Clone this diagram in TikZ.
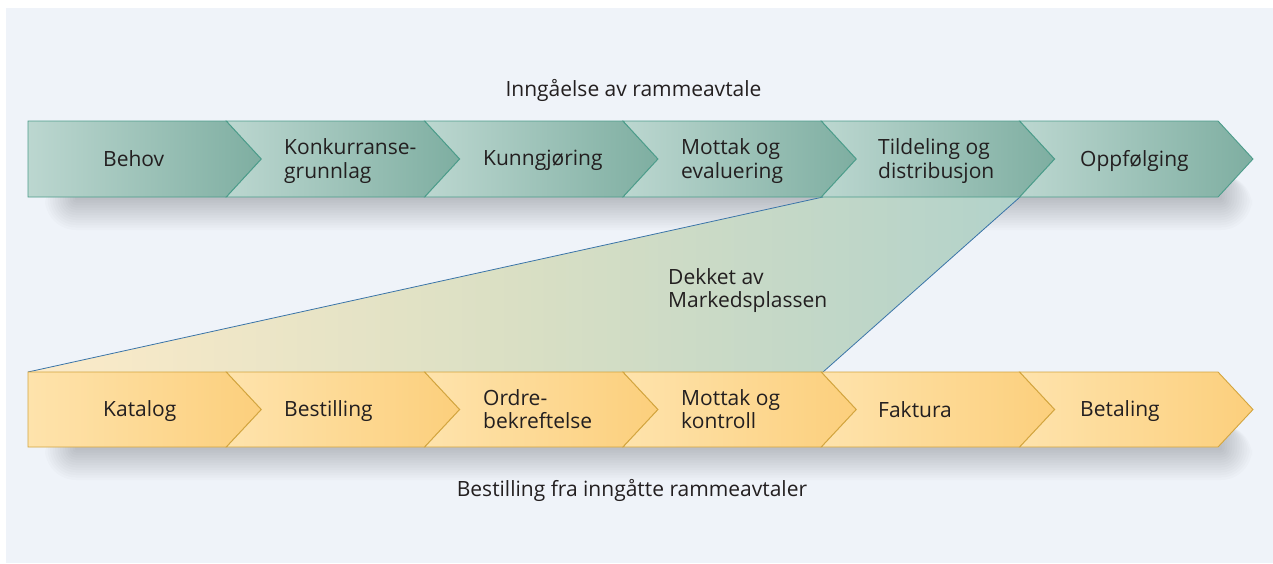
\documentclass[tikz,border=0pt]{standalone}
\usepackage{fontspec}
\setmainfont{Open Sans}
\definecolor{bg}{HTML}{EFF3F9}
\definecolor{tl}{HTML}{BCD7D0}
\definecolor{tr}{HTML}{7EAEA1}
\definecolor{tb}{HTML}{4C9C8A}
\definecolor{yl}{HTML}{FEE3AC}
\definecolor{yr}{HTML}{FCCF7C}
\definecolor{yb}{HTML}{D3A53F}
\definecolor{fl}{HTML}{FDEBC9}
\definecolor{fm}{HTML}{D9DFC4}
\definecolor{fr}{HTML}{B2D2CA}
\definecolor{edge}{HTML}{3A74A8}
\definecolor{txt}{HTML}{231F20}
\newcommand\lstr{\rule[-5pt]{0pt}{21pt}}
\begin{document}
\begin{tikzpicture}[x=1pt,y=-1pt,
  lbl/.style={anchor=west,inner sep=0pt,text=txt,align=left,font=\fontsize{21}{23.5}\selectfont},
  ttl/.style={anchor=base,inner sep=0pt,text=txt,font=\fontsize{21}{23.5}\selectfont},
  topchev/.style={left color=tl,right color=tr,draw=tb,line width=0.9pt,line join=miter},
  botchev/.style={left color=yl,right color=yr,draw=yb,line width=0.9pt,line join=miter},
  funnel/.style={left color=fl,right color=fr,middle color=fm},
  funneledge/.style={draw=edge,line width=0.8pt}]
\useasboundingbox (0,0) rectangle (1273,563);
\fill[white] (0,0) rectangle (1273,563);
\fill[bg] (6,8) rectangle (1273,563);
% soft shadows
\foreach \k in {0,...,12}{
  \pgfmathsetmacro\r{2.5*\k+1}
  \fill[black,opacity=0.016,rounded corners=\r pt] ({75-2.5*\k},175) rectangle ({1222+2.5*\k},{200+2.5*\k});
  \fill[black,opacity=0.016,rounded corners=\r pt] ({75-2.5*\k},425) rectangle ({1222+2.5*\k},{450+2.5*\k});
}
% funnel
\path[funnel] (28,372) -- (823,197) -- (1020,197) -- (823,372) -- cycle;
\coordinate (fa) at (28,372);
\coordinate (fb) at (823,197);
\coordinate (fc) at (1020,197);
\coordinate (fd) at (823,372);
\draw[funneledge] (fa) -- (fb);
\draw[funneledge] (fc) -- (fd);
% chevrons
\foreach \i in {0,...,5}{
  \pgfmathsetmacro\xa{28+198.33*\i}
  \pgfmathsetmacro\xb{28+198.33*(\i+1)}
  \pgfmathsetmacro\n{\i==0?0:35}
  \path[topchev] (\xa,121) -- (\xb,121) -- ({\xb+35},159) -- (\xb,197) -- (\xa,197) -- ({\xa+\n},159) -- cycle;
  \path[botchev] (\xa,372) -- (\xb,372) -- ({\xb+35},409.5) -- (\xb,447) -- (\xa,447) -- ({\xa+\n},409.5) -- cycle;
}
% labels top
\node[lbl] (t1) at (103,160.5) {\lstr Behov};
\node[lbl] (t2) at (284,161) {\lstr Konkurranse-\\\lstr grunnlag};
\node[lbl] (t3) at (483,160.5) {\lstr Kunngjøring};
\node[lbl] (t4) at (681,161) {\lstr Mottak og\\\lstr evaluering};
\node[lbl] (t5) at (878,161) {\lstr Tildeling og\\\lstr distribusjon};
\node[lbl] (t6) at (1080,160.5) {\lstr Oppfølging};
% labels bottom
\node[lbl] (b1) at (103,411.5) {\lstr Katalog};
\node[lbl] (b2) at (284,411.5) {\lstr Bestilling};
\node[lbl] (b3) at (483,411.5) {\lstr Ordre-\\\lstr bekreftelse};
\node[lbl] (b4) at (681,411.5) {\lstr Mottak og\\\lstr kontroll};
\node[lbl] (b5) at (878,411.5) {\lstr Faktura};
\node[lbl] (b6) at (1080,411.5) {\lstr Betaling};
% titles
\node[ttl] (top) at (633.5,96) {Inngåelse av rammeavtale};
\node[ttl] (bot) at (632,496) {Bestilling fra inngåtte rammeavtaler};
\node[lbl] (mid) at (668,290.5) {\lstr Dekket av\\\lstr Markedsplassen};
\end{tikzpicture}
\end{document}
